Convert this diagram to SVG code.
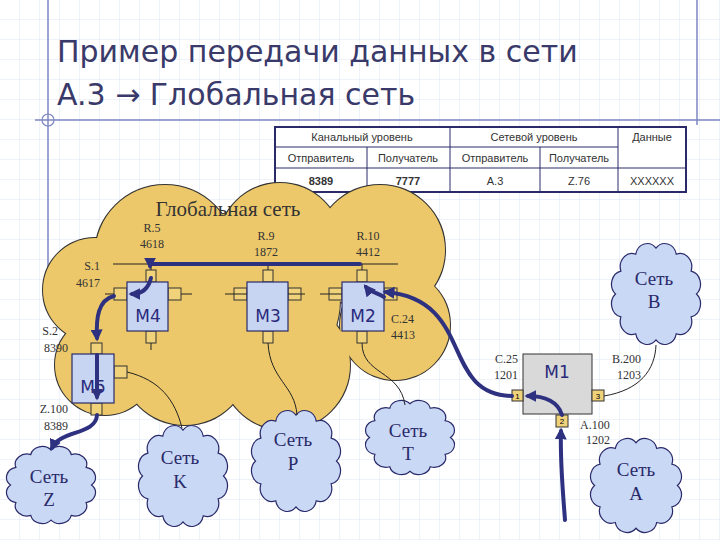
<svg xmlns="http://www.w3.org/2000/svg" width="720" height="540" viewBox="0 0 720 540">
<defs>
<pattern id="grid" width="20" height="20" patternUnits="userSpaceOnUse"><path d="M20 0V20H0" fill="none" stroke="#dde4f2" stroke-width="1"/></pattern>
<path id="cl" d="M95,50 A13,13 0 0 1 89,72.5 A13,13 0 0 1 72.5,89 A13,13 0 0 1 50,95 A13,13 0 0 1 27.5,89 A13,13 0 0 1 11,72.5 A13,13 0 0 1 5,50 A13,13 0 0 1 11,27.5 A13,13 0 0 1 27.5,11 A13,13 0 0 1 50,5 A13,13 0 0 1 72.5,11 A13,13 0 0 1 89,27.5 A13,13 0 0 1 95,50Z" fill="#c9d8f5" stroke="#2a2a6a" stroke-width="1.2" vector-effect="non-scaling-stroke"/>
<marker id="ah" viewBox="0 0 10 10" refX="7" refY="5" markerWidth="3" markerHeight="3" orient="auto"><path d="M0,0L10,5L0,10Z" fill="#2e3080"/></marker>
<style>
.t{font-family:"Liberation Serif",serif;font-size:12px;fill:#333}
.tb{font-family:"Liberation Sans",sans-serif;font-size:11px;fill:#333;text-anchor:middle}
.cn{font-family:"Liberation Serif",serif;font-size:19px;fill:#2a2a6a;text-anchor:middle}
.m{font-family:"DejaVu Sans",sans-serif;font-size:17px;fill:#2a2a7a;text-anchor:middle}
.box{fill:#c7d4f2;stroke:#2a2a6a;stroke-width:1.2}
.p{fill:#f0d27a;stroke:#333;stroke-width:1}
.th{fill:none;stroke:#222;stroke-width:1}
.fl{fill:none;stroke:#2e3080;stroke-width:4;stroke-linecap:round;marker-end:url(#ah)}
</style>
</defs>
<rect width="720" height="540" fill="#fff"/>
<rect width="720" height="540" fill="url(#grid)"/>
<path d="M48 0V290M35 120H720M697 0V125" stroke="#7e86c2" stroke-width="1.5" fill="none"/>
<circle cx="48" cy="120" r="6" fill="none" stroke="#7e86c2" stroke-width="1.2"/>
<text x="57" y="62" font-family="DejaVu Sans,sans-serif" font-size="30" fill="#3a3a6a">Пример передачи данных в сети</text>
<text x="57" y="105" font-family="DejaVu Sans,sans-serif" font-size="30" fill="#3a3a6a">A.3 → Глобальная сеть</text>

<g id="table">
<rect x="275" y="127" width="411" height="65" fill="#fff" stroke="#2a2a6a" stroke-width="2"/>
<path d="M275 147H618M275 168H686M367 147V192M450 127V192M540 147V192M618 127V192" stroke="#2a2a6a" stroke-width="1" fill="none"/>
<text class="tb" x="362" y="141">Канальный уровень</text>
<text class="tb" x="534" y="141">Сетевой уровень</text>
<text class="tb" x="652" y="141">Данные</text>
<text class="tb" x="321" y="162">Отправитель</text>
<text class="tb" x="408" y="162">Получатель</text>
<text class="tb" x="495" y="162">Отправитель</text>
<text class="tb" x="579" y="162">Получатель</text>
<text class="tb" x="321" y="185" font-weight="bold" fill="#5a1050">8389</text>
<text class="tb" x="408" y="185" font-weight="bold" fill="#5a1050">7777</text>
<text class="tb" x="495" y="185">A.3</text>
<text class="tb" x="579" y="185">Z.76</text>
<text class="tb" x="652" y="185">XXXXXX</text>
</g>

<g id="global-cloud">
<g fill="#ecc86a" stroke="#333" stroke-width="2">
<circle cx="165" cy="255" r="70"/><circle cx="280" cy="245" r="62"/><circle cx="380" cy="250" r="65"/>
<circle cx="95" cy="290" r="52"/><circle cx="105" cy="365" r="50"/><circle cx="185" cy="360" r="65"/>
<circle cx="285" cy="365" r="65"/><circle cx="395" cy="325" r="55"/><circle cx="250" cy="300" r="90"/>
</g>
<g fill="#ecc86a">
<circle cx="165" cy="255" r="70"/><circle cx="280" cy="245" r="62"/><circle cx="380" cy="250" r="65"/>
<circle cx="95" cy="290" r="52"/><circle cx="105" cy="365" r="50"/><circle cx="185" cy="360" r="65"/>
<circle cx="285" cy="365" r="65"/><circle cx="395" cy="325" r="55"/><circle cx="250" cy="300" r="90"/>
</g>
<text x="228" y="216" font-family="Liberation Serif,serif" font-size="21" fill="#333" text-anchor="middle">Глобальная сеть</text>
</g>

<g id="labels">
<text class="t" x="152" y="232" text-anchor="middle">R.5</text><text class="t" x="152" y="248" text-anchor="middle">4618</text>
<text class="t" x="266" y="240" text-anchor="middle">R.9</text><text class="t" x="266" y="256" text-anchor="middle">1872</text>
<text class="t" x="368" y="240" text-anchor="middle">R.10</text><text class="t" x="368" y="256" text-anchor="middle">4412</text>
<text class="t" x="100" y="270" text-anchor="end">S.1</text><text class="t" x="100" y="287" text-anchor="end">4617</text>
<text class="t" x="58" y="335" text-anchor="end">S.2</text><text class="t" x="68" y="352" text-anchor="end">8390</text>
<text class="t" x="391" y="323">C.24</text><text class="t" x="391" y="339">4413</text>
<text class="t" x="518" y="363" text-anchor="end">C.25</text><text class="t" x="518" y="379" text-anchor="end">1201</text>
<text class="t" x="641" y="363" text-anchor="end">B.200</text><text class="t" x="641" y="379" text-anchor="end">1203</text>
<text class="t" x="580" y="429">A.100</text><text class="t" x="586" y="444">1202</text>
<text class="t" x="68" y="413" text-anchor="end">Z.100</text><text class="t" x="68" y="430" text-anchor="end">8389</text>
</g>

<g id="M4"><rect class="p" x="146" y="270" width="10" height="12"/><rect class="p" x="114" y="288" width="13" height="12"/><rect class="p" x="168" y="288" width="13" height="12"/><rect class="p" x="146" y="331" width="10" height="12"/><rect class="box" x="127" y="282" width="41" height="49"/><text class="m" x="148" y="322">M4</text></g>
<g id="M3"><rect class="p" x="263" y="270" width="10" height="12"/><rect class="p" x="234" y="288" width="13" height="12"/><rect class="p" x="288" y="288" width="13" height="12"/><rect class="p" x="263" y="331" width="10" height="12"/><rect class="box" x="247" y="282" width="41" height="49"/><text class="m" x="268" y="322">M3</text></g>
<g id="M2"><rect class="p" x="357" y="270" width="10" height="12"/><rect class="p" x="329" y="288" width="13" height="12"/><rect class="p" x="384" y="288" width="13" height="12"/><rect class="p" x="357" y="331" width="10" height="12"/><rect class="box" x="342" y="282" width="42" height="49"/><text class="m" x="363" y="322">M2</text></g>
<g id="M5"><rect class="p" x="91" y="343" width="11" height="11"/><rect class="p" x="114" y="366" width="13" height="12"/><rect class="p" x="91" y="403" width="11" height="12"/><rect class="box" x="72" y="354" width="42" height="49"/><text class="m" x="93" y="393">M5</text></g>
<g id="M1"><rect x="523" y="354" width="69" height="60" fill="#d9d9d9" stroke="#333" stroke-width="1"/><text class="m" x="557" y="378" font-size="18">M1</text>
<rect class="p" x="512" y="390" width="11" height="11"/><text x="517.5" y="399" font-family="Liberation Sans,sans-serif" font-size="8" text-anchor="middle">1</text>
<rect class="p" x="592" y="390" width="12" height="11"/><text x="598" y="399" font-family="Liberation Sans,sans-serif" font-size="8" text-anchor="middle">3</text>
<rect class="p" x="556" y="415" width="12" height="12"/><text x="562" y="424" font-family="Liberation Sans,sans-serif" font-size="8" text-anchor="middle">2</text></g>

<g id="net-Z"><use href="#cl" transform="translate(6,446) scale(0.9,0.78)"/><text class="cn" x="49" y="483">Сеть</text><text class="cn" x="49" y="506">Z</text></g>
<g id="net-K"><use href="#cl" transform="translate(138,425) scale(0.9,1.02)"/><text class="cn" x="180" y="464">Сеть</text><text class="cn" x="180" y="488">K</text></g>
<g id="net-P"><use href="#cl" transform="translate(251,410) scale(0.9,1.02)"/><text class="cn" x="293" y="446">Сеть</text><text class="cn" x="293" y="470">P</text></g>
<g id="net-T"><use href="#cl" transform="translate(365,400) scale(0.9,0.75)"/><text class="cn" x="408" y="437">Сеть</text><text class="cn" x="408" y="460">T</text></g>
<g id="net-B"><use href="#cl" transform="translate(611,243) scale(0.9,1.02)"/><text class="cn" x="654" y="285">Сеть</text><text class="cn" x="654" y="308">B</text></g>
<g id="net-A"><use href="#cl" transform="translate(590,438) scale(0.92,0.95)"/><text class="cn" x="636" y="476">Сеть</text><text class="cn" x="636" y="500">A</text></g>

<g id="connectors">
<path class="th" d="M113 264H398M151 264V270M268 264V270M362 264V270"/>
<path class="th" d="M181 294H192M114 294H105M151 343V350M247 294H225M288 294H305M342 294H320M127 372C160 380 175 400 182 428"/>
<path class="th" d="M268 343C270 380 295 385 297 415M362 343C362 375 400 370 405 405M604 396C640 390 655 370 656 345"/>
<path class="fl" d="M360 264H150V266"/>
<path class="fl" d="M151 278C148 290 140 294 132 294"/>
<path class="fl" d="M114 296C98 300 96 318 97 338"/>
<path class="fl" d="M97 355V397"/>
<path class="fl" d="M97 415C96 435 60 430 52 448"/>
<path class="fl" d="M512 396C440 395 475 300 386 292"/>
<path class="fl" d="M384 297C376 292 370 292 366 287"/>
<path class="fl" d="M565 520C562 480 560 460 561 431"/>
<path class="fl" d="M562 415C558 402 545 396 528 396"/>
</g>
</svg>
